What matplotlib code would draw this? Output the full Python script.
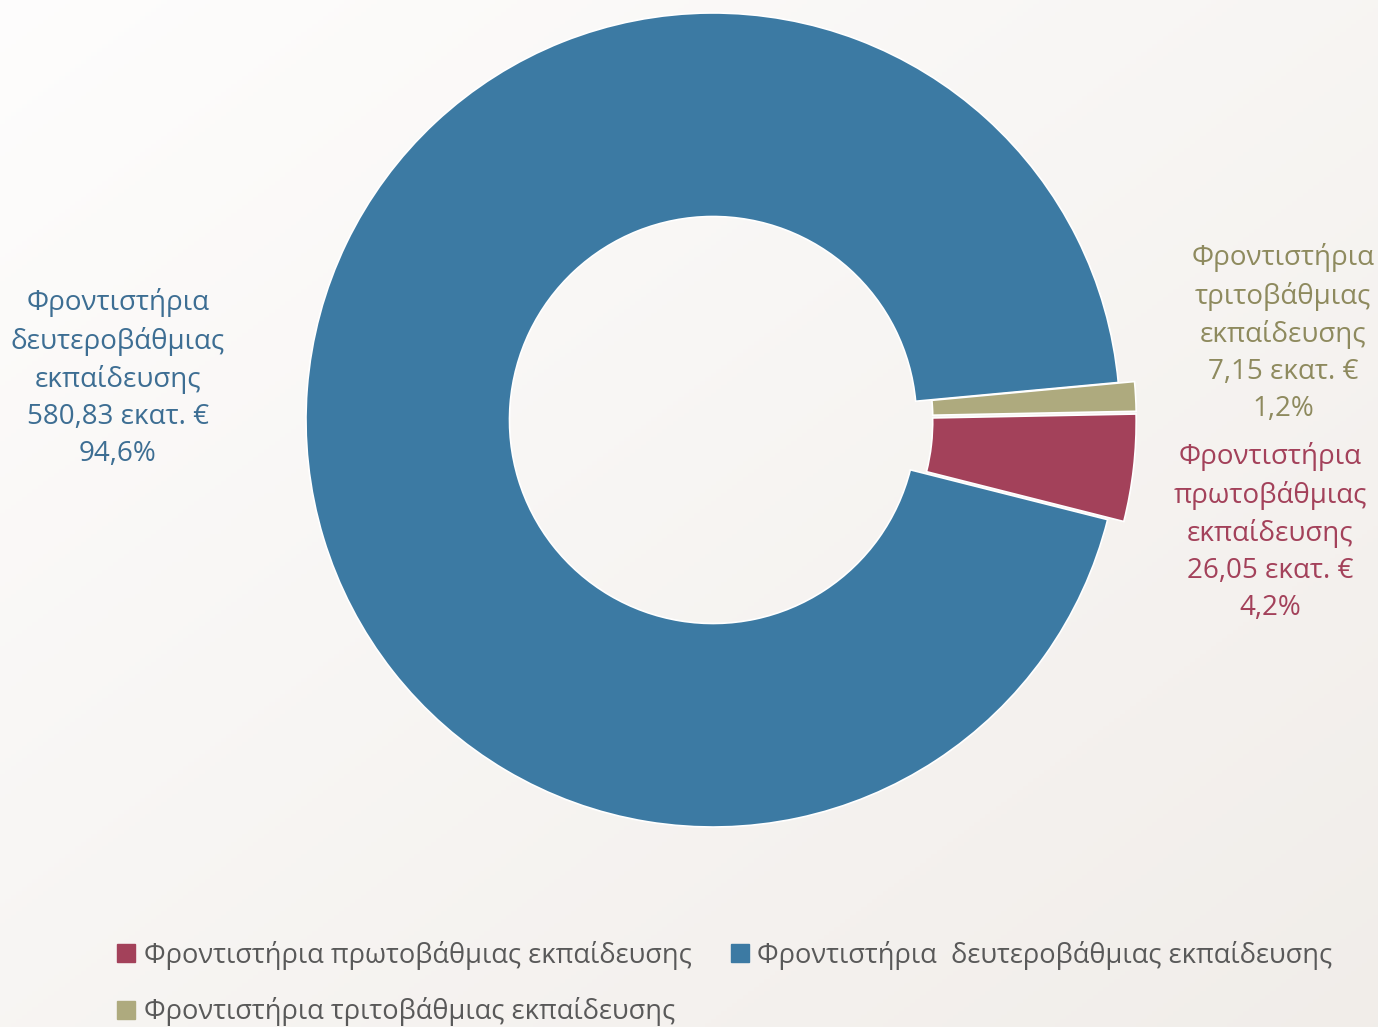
import numpy as np
import matplotlib.pyplot as plt
from matplotlib.lines import Line2D

plt.rcParams['font.family'] = ['Open Sans', 'DejaVu Sans']

# data
categories = ['Φροντιστήρια πρωτοβάθμιας εκπαίδευσης',
              'Φροντιστήρια  δευτεροβάθμιας εκπαίδευσης',
              'Φροντιστήρια τριτοβάθμιας εκπαίδευσης']
values = [26.05, 580.83, 7.15]          # εκατ. €
shares = ['4,2%', '94,6%', '1,2%']
value_txt = ['26,05', '580,83', '7,15']
label_lines = [['Φροντιστήρια', 'πρωτοβάθμιας', 'εκπαίδευσης'],
               ['Φροντιστήρια', 'δευτεροβάθμιας', 'εκπαίδευσης'],
               ['Φροντιστήρια', 'τριτοβάθμιας', 'εκπαίδευσης']]

colors = ['#A3415A', '#3C7AA3', '#AEAA7E']
text_colors = ['#A3415A', '#3D6E93', '#8E8A5E']

W, H = 1378, 1027
fig = plt.figure(figsize=(W / 100, H / 100), dpi=100)

# background gradient
bg = fig.add_axes([0, 0, 1, 1])
xx, yy = np.meshgrid(np.linspace(0, 1, 256), np.linspace(0, 1, 256))
t = (xx + yy) / 2
c0 = np.array([0.995, 0.992, 0.99])
c1 = np.array([0.945, 0.93, 0.915])
img = c0[None, None, :] * (1 - t[..., None]) + c1[None, None, :] * t[..., None]
bg.imshow(img, aspect='auto', extent=[0, 1, 0, 1], origin='upper')
bg.axis('off')

# pie axes, 1 unit = outer radius in pixels
R = 407.0
cx, cy = 713.0, 420.0
ax = fig.add_axes([0, 0, 1, 1])

ax.pie(values, colors=colors, startangle=1.1, counterclock=False,
       radius=1.0, explode=[0.04, 0, 0.04],
       wedgeprops=dict(width=0.5, edgecolor='white', linewidth=1.2))

ax.set_xlim(-cx / R, (W - cx) / R)
ax.set_ylim(-(H - cy) / R, cy / R)
ax.set_aspect('equal')
ax.axis('off')

fs = 20
# label positions (pixel -> data)
label_pos = [(1270, 532), (118, 378), (1283, 333)]
for i in range(3):
    px, py = label_pos[i]
    txt = '\n'.join(label_lines[i] + [value_txt[i] + ' εκατ. €', shares[i]])
    ax.text((px - cx) / R, (cy - py) / R, txt, ha='center', va='center',
            fontsize=fs, color=text_colors[i], linespacing=1.42)

# legend: order so that rows read red, blue / khaki
handles = [Line2D([], [], marker='s', linestyle='none', markersize=13,
                  color=colors[i]) for i in range(3)]
order = [0, 2, 1]
fig.legend([handles[i] for i in order], [categories[i] for i in order],
           ncol=2, loc='upper left', bbox_to_anchor=(106 / W, 1 - 930 / H),
           frameon=False, fontsize=19.6, labelcolor='#595959',
           handlelength=0.7, handletextpad=0.3, columnspacing=1.4,
           labelspacing=1.0, borderaxespad=0)

fig.savefig('out.png', dpi=100)
